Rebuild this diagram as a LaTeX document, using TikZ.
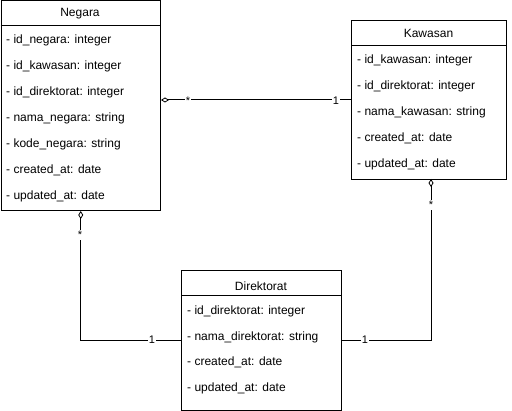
\documentclass[tikz,border=0pt]{standalone}
\usepackage{fontspec}
\setmainfont{Liberation Sans}
\usetikzlibrary{arrows.meta,calc}
\begin{document}
\begin{tikzpicture}[x=1pt,y=-1pt,
  box/.style={draw=black,line width=1pt,fill=white,anchor=north west,inner sep=0pt,rectangle},
  hdr/.style={font=\fontsize{12}{14}\selectfont,inner sep=0pt,anchor=center},
  row/.style={font=\fontsize{12}{14}\selectfont,inner sep=0pt,anchor=west},
  conn/.style={draw=black,line width=1pt},
  agg/.style={conn,{Diamond[open,length=8pt,width=5pt,line width=0.8pt]}-},
  mult/.style={font=\fontsize{11}{13}\selectfont,fill=white,inner sep=1pt}]
\useasboundingbox[fill=white] (0,0) rectangle (512,411);
% Negara
\node[box,minimum width=159.5pt,minimum height=209.5pt] (negara) at (0.5,0.5) {};
\draw[conn] (0.5,26) -- (160,26);
\node[hdr] (negaraT) at (80,14) {Negara};
\node[row] (n1) at (6,40) {- id\_negara: integer};
\node[row] (n2) at (6,66) {- id\_kawasan: integer};
\node[row] (n3) at (6,92) {- id\_direktorat: integer};
\node[row] (n4) at (6,118) {- nama\_negara: string};
\node[row] (n5) at (6,144) {- kode\_negara: string};
\node[row] (n6) at (6,170) {- created\_at: date};
\node[row] (n7) at (6,196) {- updated\_at: date};
% Kawasan
\node[box,minimum width=155pt,minimum height=159pt] (kawasan) at (351,20) {};
\draw[conn] (351,46) -- (506,46);
\node[hdr] (kawasanT) at (428.5,33) {Kawasan};
\node[row] (k1) at (357,60) {- id\_kawasan: integer};
\node[row] (k2) at (357,86) {- id\_direktorat: integer};
\node[row] (k3) at (357,112) {- nama\_kawasan: string};
\node[row] (k4) at (357,138) {- created\_at: date};
\node[row] (k5) at (357,164) {- updated\_at: date};
% Direktorat
\node[box,minimum width=160pt,minimum height=140pt] (direktorat) at (181,270) {};
\draw[conn] (181,296) -- (341,296);
\node[hdr] (direktoratT) at (261,286) {Direktorat};
\node[row] (d1) at (187,311) {- id\_direktorat: integer};
\node[row] (d2) at (187,337) {- nama\_direktorat: string};
\node[row] (d3) at (187,362) {- created\_at: date};
\node[row] (d4) at (187,388) {- updated\_at: date};
% connectors
\coordinate (kb) at (431,179);
\draw[agg] (negara.east |- kawasan.west) -- (kawasan.west);
\draw[agg] (negara.south) |- (direktorat.west);
\draw[agg] (kb) |- (direktorat.east);
% multiplicities
\node[mult] (m1) at (188,101) {*};
\node[mult] (m2) at (336,101) {1};
\node[mult] (m3) at (80,235) {*};
\node[mult] (m4) at (152,340) {1};
\node[mult] (m5) at (431,205) {*};
\node[mult] (m6) at (365,340) {1};
\end{tikzpicture}
\end{document}
